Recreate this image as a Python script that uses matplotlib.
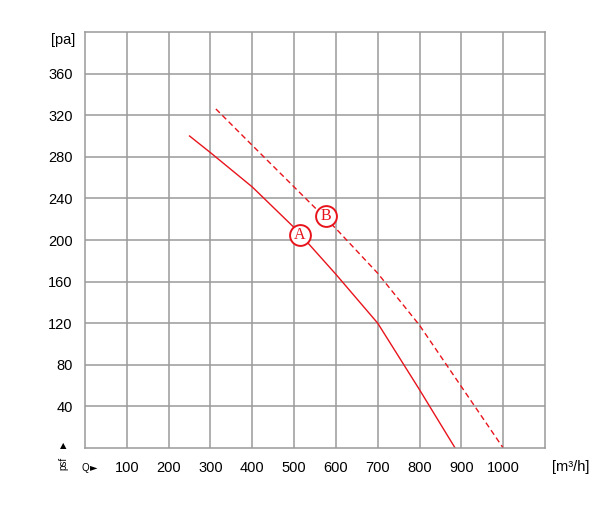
import matplotlib
matplotlib.use("Agg")
import matplotlib.pyplot as plt

# curve A (solid) and curve B (dashed), Q in m3/h, p in Pa
qa = [250, 300, 400, 500, 600, 700, 800, 885]
pa = [300, 284, 251, 212, 167, 120, 56, 0]
qb = [313, 400, 500, 600, 700, 800, 900, 1000]
pb = [326, 291, 251, 211, 168, 118, 59, 0]

xticks = [100, 200, 300, 400, 500, 600, 700, 800, 900, 1000]
yticks = [40, 80, 120, 160, 200, 240, 280, 320, 360]

plt.rcParams['font.family'] = ['Liberation Sans', 'DejaVu Sans']
red = '#e8141c'
grid_col = '#9a9a9a'

fig = plt.figure(figsize=(6.01, 5.19), dpi=100)
ax = fig.add_axes([85 / 601, 1 - 448 / 519, 460 / 601, 416 / 519])
ax.set_xlim(0, 1100)
ax.set_ylim(0, 400)

for x in range(100, 1100, 100):
    ax.axvline(x, color=grid_col, lw=1.1)
for y in range(40, 400, 40):
    ax.axhline(y, color=grid_col, lw=1.1)
for s in ax.spines.values():
    s.set_color(grid_col)
    s.set_linewidth(1.1)

ax.plot(qa, pa, color=red, lw=1.0)
ax.plot(qb, pb, color=red, lw=1.0, dashes=(4, 2.5))

# curve labels
for q, p, t in [(514, 205, 'A'), (577, 223, 'B')]:
    ax.plot(q, p, 'o', ms=15, mfc='white', mec=red, mew=1.4)
    ax.text(q, p, t, color=red, fontsize=11.5, family='Liberation Serif',
            ha='center', va='center')

ax.set_xticks(xticks)
ax.set_yticks(yticks)
ax.set_xticklabels([str(v) for v in xticks], fontsize=10.5)
ax.set_yticklabels([str(v) for v in yticks], fontsize=10.5)
ax.tick_params(length=0, pad=9)

fig.text(75 / 601, 1 - 40 / 519, '[pa]', fontsize=10.5, ha='right', va='center')
fig.text(552 / 601, 1 - 467 / 519, '[m³/h]', fontsize=10.5, ha='left', va='center')
fig.text(85 / 601, 1 - 468 / 519, 'Q', fontsize=7, ha='center', va='center')
fig.text(94 / 601, 1 - 467 / 519, '►', fontsize=7, ha='center', va='center', family='DejaVu Sans')
fig.text(63 / 601, 1 - 446 / 519, '▲', fontsize=6, ha='center', va='center', family='DejaVu Sans')
fig.text(63 / 601, 1 - 463 / 519, 'psf', fontsize=7, ha='center', va='center', rotation=90)

fig.savefig("out.png", dpi=100)
